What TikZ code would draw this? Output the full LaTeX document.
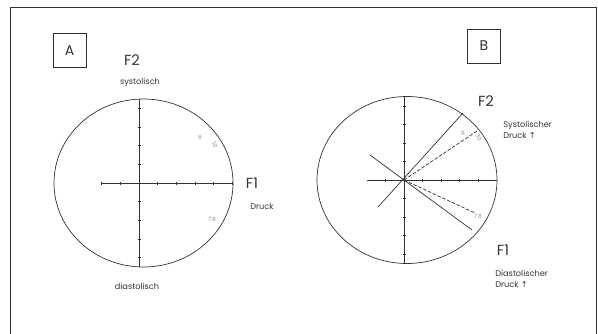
\documentclass[tikz,border=0pt]{standalone}
\usepackage{fontspec}
\setmainfont{Poppins}
\newfontfamily\symfont{DejaVu Sans}
\begin{document}
\begin{tikzpicture}[x=0.03cm, y=-0.03cm, line width=0.6pt, color=black!80,
  big/.style={font=\fontsize{12.5}{14}\selectfont, inner sep=0pt},
  small/.style={font=\fontsize{7}{9}\selectfont, inner sep=0pt},
  point/.style={font=\fontsize{5}{6}\selectfont, text=black!45, inner sep=0pt},
  letterbox/.style={draw, line width=0.5pt, minimum width=0.99cm, minimum height=1.02cm, font=\fontsize{12}{14}\selectfont}]
\useasboundingbox (0,0) rectangle (598,333);
\clip (0,0) rectangle (598,333);
\draw (10.5,7) rectangle (596,350);

% panel A
\coordinate (oa) at (139,183);
\draw (143.5,183) ellipse [x radius=89.5, y radius=84];
\draw (139,99) -- (139,267);
\draw (102,183) -- (233,183);
\foreach \t in {-4,-3,...,4} \draw (137.5,183+18.7*\t) -- +(3,0);
\foreach \t in {-2,-1,1,2,3,4,5} \draw (139+18.7*\t,181.5) -- +(0,3);
\node[letterbox] (boxa) at (69.5,50.5) {A};
\node[big] (f2a) at (132,60) {F2};
\node[small] (sysa) at (140,82) {systolisch};
\node[big] (f1a) at (252,183) {F1};
\node[small] (drucka) at (262,206) {Druck};
\node[small] (diaa) at (137,286) {diastolisch};
\node[point] (p6a) at (200,137) {6};
\node[point, rotate=-60] (p10a) at (215,145) {10};
\node[point] (p78a) at (212,219) {7\,8};

% panel B
\coordinate (ob) at (404,180);
\draw (407,180) ellipse [x radius=90, y radius=83.5];
\draw (404,96) -- (404,263);
\draw (367,180) -- (497,180);
\foreach \t in {-4,-3,...,4} \draw (402.5,180+18.5*\t) -- +(3,0);
\foreach \t in {-1,1,2,3,4} \draw (404+18.5*\t,178.5) -- +(0,3);
\coordinate (s2) at (463,113);
\coordinate (s2b) at (378,207);
\coordinate (s1) at (472,230);
\coordinate (s1b) at (370,155);
\coordinate (d2) at (477,131);
\coordinate (d1) at (475,213);
\draw (s2b) -- (s2);
\draw (s1b) -- (s1);
\draw[dashed, dash pattern=on 3pt off 1.5pt] (ob) -- (d2);
\draw[dashed, dash pattern=on 3pt off 1.5pt] (ob) -- (d1);
\node[letterbox] (boxb) at (484,46) {B};
\node[big] (f2b) at (486,101) {F2};
\node[small, anchor=west, align=left] (sysb) at (503,130) {Systolischer\\Druck {\symfont ↑}};
\node[big] (f1b) at (503,250) {F1};
\node[small, anchor=west, align=left] (diab) at (495,279) {Diastolischer\\Druck {\symfont ↑}};
\node[point] (p6b) at (463,133) {6};
\node[point, rotate=-60] (p10b) at (479,138) {10};
\node[point] (p78b) at (478,216) {7\,8};
\end{tikzpicture}
\end{document}
